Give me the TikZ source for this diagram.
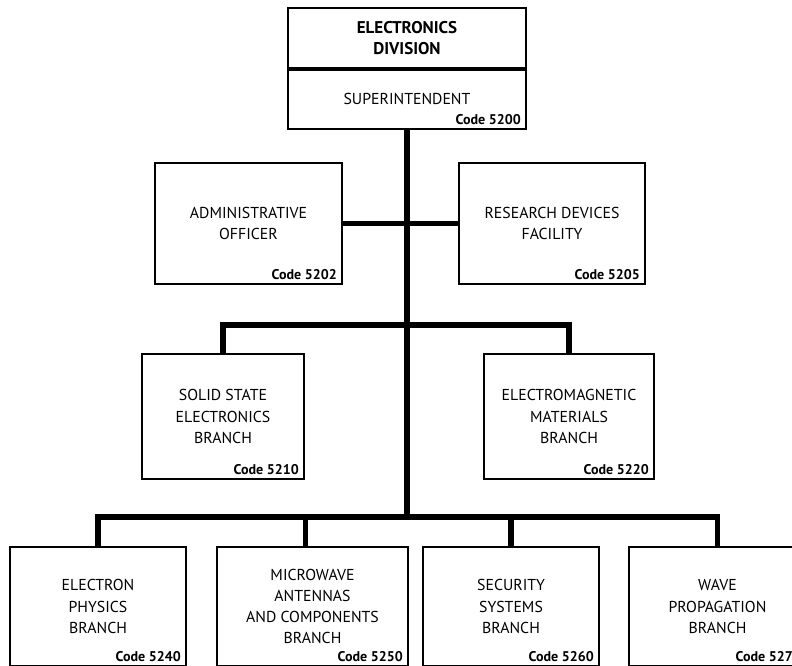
\documentclass[tikz,border=0pt]{standalone}
\usepackage{fontspec}
\setmainfont{PT Sans}
\usepackage{tikz}

\begin{document}
\begin{tikzpicture}[x=0.03cm, y=-0.03cm,
  every node/.style={font=\fontsize{13.5}{18}\selectfont},
  unit/.style={draw, line width=1.5pt, fill=white, rectangle, align=center, inner sep=0pt},
  code/.style={anchor=south east, inner xsep=5pt, inner ysep=4pt, font=\bfseries\fontsize{12}{14}\selectfont},
  link/.style={line width=4.5pt}]
  \useasboundingbox (0,0) rectangle (792,665);
  \clip (0,0) rectangle (792,665);

  \node[unit, minimum width=7.14cm, minimum height=1.8cm, font=\bfseries\fontsize{14.5}{18}\selectfont] (Div) at (407,38) {ELECTRONICS\\DIVISION};
  \node[unit, minimum width=7.14cm, minimum height=1.77cm, anchor=north] (Sup) at (Div.south) {SUPERINTENDENT};
  \node[code] (K5200) at (Sup.south east) {Code 5200};

  \node[unit, minimum width=5.61cm, minimum height=3.63cm] (Adm) at (248.5,223.5) {ADMINISTRATIVE\\OFFICER};
  \node[code] (K5202) at (Adm.south east) {Code 5202};
  \node[unit, minimum width=5.58cm, minimum height=3.63cm] (Rdf) at (552,223.5) {RESEARCH DEVICES\\FACILITY};
  \node[code] (K5205) at (Rdf.south east) {Code 5205};

  \node[unit, minimum width=4.86cm, minimum height=3.75cm] (Sse) at (223,416.5) {SOLID STATE\\ELECTRONICS\\BRANCH};
  \node[code] (K5210) at (Sse.south east) {Code 5210};
  \node[unit, minimum width=5.1cm, minimum height=3.75cm] (Emm) at (569,416.5) {ELECTROMAGNETIC\\MATERIALS\\BRANCH};
  \node[code] (K5220) at (Emm.south east) {Code 5220};

  \node[unit, minimum width=5.28cm, minimum height=3.57cm] (Eph) at (98,606.5) {ELECTRON\\PHYSICS\\BRANCH};
  \node[code] (K5240) at (Eph.south east) {Code 5240};
  \node[unit, minimum width=5.73cm, minimum height=3.57cm] (Mac) at (312.5,606.5) {MICROWAVE\\ANTENNAS\\AND COMPONENTS\\BRANCH};
  \node[code] (K5250) at (Mac.south east) {Code 5250};
  \node[unit, minimum width=5.28cm, minimum height=3.57cm] (Sec) at (511,606.5) {SECURITY\\SYSTEMS\\BRANCH};
  \node[code] (K5260) at (Sec.south east) {Code 5260};
  \node[unit, minimum width=5.31cm, minimum height=3.57cm] (Wav) at (717.5,606.5) {WAVE\\PROPAGATION\\BRANCH};
  \node[code] (K5270) at (Wav.south east) {Code 5270};

  \coordinate (Bus2) at (407,325);
  \coordinate (Bus3) at (407,517);

  \draw[link] (Sup.south) -- (Bus3);
  \draw[link] (Adm.east) -- (Rdf.west);
  \draw[link] (Sse.north) |- (Bus2) -| (Emm.north);
  \draw[link] (Eph.north) |- (Bus3) -| (Wav.north);
  \draw[link] ([xshift=-0.22cm]Mac.north) -- ([xshift=-0.22cm]Mac.north |- Bus3);
  \draw[link] (Sec.north) -- (Sec.north |- Bus3);
\end{tikzpicture}
\end{document}
